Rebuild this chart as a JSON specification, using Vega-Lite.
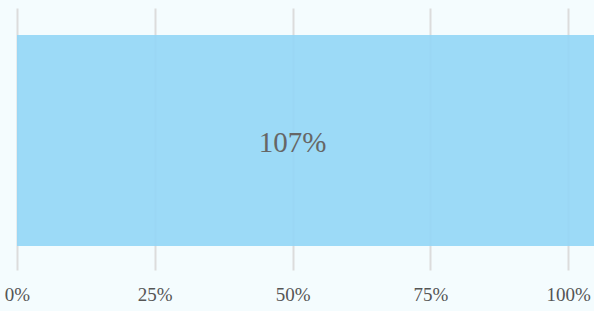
{
  "$schema": "https://vega.github.io/schema/vega-lite/v6.json",
  "width": 577,
  "height": 262,
  "autosize": {"type": "none"},
  "padding": {"left": 17, "top": 8, "right": 0, "bottom": 41},
  "background": "#f4fcfe",
  "config": {"view": {"stroke": null}},
  "data": {"values": [{"cat": "A", "value": 1.07}]},
  "layer": [
    {
      "mark": {"type": "bar", "color": "#92d6f6", "opacity": 0.9, "clip": true},
      "encoding": {
        "x": {
          "field": "value",
          "type": "quantitative",
          "scale": {"domain": [0, 1.047], "nice": false, "zero": true},
          "axis": {
            "values": [0, 0.25, 0.5, 0.75, 1],
            "format": ".0%",
            "title": null,
            "domain": false,
            "ticks": false,
            "labelFlush": false,
            "labelFont": "Liberation Serif",
            "labelFontSize": 19,
            "labelColor": "#555555",
            "labelPadding": 15,
            "grid": true,
            "gridColor": "#dcdcdc",
            "gridWidth": 2,
            "zindex": 0
          }
        },
        "y": {
          "field": "cat",
          "type": "nominal",
          "scale": {"paddingInner": 0.108, "paddingOuter": 0.108, "align": 0.53},
          "axis": null
        }
      }
    },
    {
      "mark": {"type": "text", "font": "Liberation Serif", "fontSize": 29, "color": "#666666", "baseline": "middle", "align": "center", "dy": 2},
      "encoding": {
        "x": {"datum": 0.5},
        "y": {"field": "cat", "type": "nominal"},
        "text": {"field": "value", "type": "quantitative", "format": ".0%"}
      }
    }
  ]
}
